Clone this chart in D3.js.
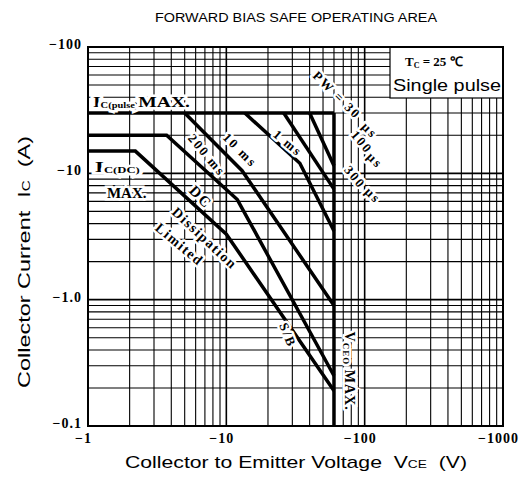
<!DOCTYPE html>
<html><head><meta charset="utf-8">
<script src="https://cdn.jsdelivr.net/npm/d3@7"></script>
<style>body{margin:0;background:#fff}svg{display:block}</style>
</head><body><svg id="c" width="526" height="478"></svg>
<script>
// ---- data ----
const xTicks = [1, 10, 100, 1000];
const xTickLabels = ["−1", "−10", "−100", "−1000"];
const yTicks = [0.1, 1, 10, 100];
const yTickLabels = ["−0.1", "−1.0", "−10", "−100"];
// curves: [VCE (V), IC (A)]
const icPulseMax = [[1, 30], [60, 30]];
const vceoMax = [[60, 30], [60, 0.1]];
const pw100us = [[40, 30], [60, 11.5]];
const pw300us = [[26, 30], [60, 7.5]];
const pw1ms = [[13.6, 30], [34, 12], [60, 3.5]];
const pw10ms = [[5, 30], [13, 10.5], [60, 0.9]];
const pw200ms = [[1, 20], [3.7, 20], [12, 6.2], [60, 0.25]];
const dcCurve = [[1, 15], [2.2, 15], [10, 3.3], [60, 0.19]];
const curves = [icPulseMax, vceoMax, pw100us, pw300us, pw1ms, pw10ms, pw200ms, dcCurve];
// annotation texts and anchors [VCE, IC, angle]
const curveLabelTexts = ["1 ms", "10 ms", "200 ms", "DC", "Dissipation", "Limited", "S/B", "PW = 30", "µs", "100", "µs", "300", "µs"];
const curveLabelAnchors = [[27.9, 17.4, 40], [12.6, 15.3, 45], [7.25, 14.0, 50], [6.56, 6.5, 45], [7.0, 3.07, 43], [4.6, 2.75, 40], [27.9, 0.525, 68], [63.2, 41.7, 45], [109, 22, 45], [95.7, 17.7, 50], [119, 12.7, 45], [85.3, 9.35, 50], [115, 6.73, 45]];

// ---- layout ----
const L = 88, R = 503, T = 47, B = 426;
const svg = d3.select("#c");
const x = d3.scaleLog().domain([1, 1000]).range([L, R]);
const y = d3.scaleLog().domain([0.1, 100]).range([B, T]);
const isDecade = v => Math.abs(Math.log10(v) - Math.round(Math.log10(v))) < 1e-6;

svg.append("rect").attr("width", 526).attr("height", 478).attr("fill", "#fff");

// title
svg.append("text").attr("x", 155).attr("y", 22)
  .attr("font-family", "Liberation Sans, Arial, sans-serif").attr("font-size", 12)
  .attr("textLength", 282).attr("lengthAdjust", "spacingAndGlyphs")
  .text("FORWARD BIAS SAFE OPERATING AREA");

// grid
const g = svg.append("g");
g.selectAll("line.vx").data(x.ticks()).join("line")
  .attr("x1", d => x(d)).attr("x2", d => x(d)).attr("y1", T).attr("y2", B)
  .attr("stroke", "#000").attr("stroke-width", d => isDecade(d) ? 1.6 : 1.1);
g.selectAll("line.hy").data(y.ticks()).join("line")
  .attr("y1", d => y(d)).attr("y2", d => y(d)).attr("x1", L).attr("x2", R)
  .attr("stroke", "#000").attr("stroke-width", d => isDecade(d) ? 1.6 : 1.1);

// legend box
svg.append("rect").attr("x", 390).attr("y", T).attr("width", R - 390).attr("height", 51)
  .attr("fill", "#fff").attr("stroke", "#000").attr("stroke-width", 1.2);
const tc = svg.append("text").attr("x", 405).attr("y", 66)
  .attr("font-family", "Liberation Serif, Times New Roman, serif").attr("font-weight", "bold").attr("font-size", 13);
tc.append("tspan").text("T");
tc.append("tspan").attr("font-size", 8).attr("dy", 2).text("C");
tc.append("tspan").attr("dy", -2).text(" = 25  ℃");
svg.append("text").attr("x", 393).attr("y", 91)
  .attr("font-family", "Liberation Sans, Arial, sans-serif").attr("font-size", 17)
  .attr("textLength", 108).attr("lengthAdjust", "spacingAndGlyphs").text("Single pulse");

// curves
const line = d3.line().x(d => x(d[0])).y(d => y(d[1]));
svg.append("g").selectAll("path").data(curves).join("path")
  .attr("d", line).attr("fill", "none").attr("stroke", "#000")
  .attr("stroke-width", 3.5).attr("stroke-linejoin", "miter");

// frame
svg.append("rect").attr("x", L).attr("y", T).attr("width", R - L).attr("height", B - T)
  .attr("fill", "none").attr("stroke", "#000").attr("stroke-width", 2);

// curve labels
const serif = "Liberation Serif, Times New Roman, serif";
svg.append("g").selectAll("text").data(curveLabelTexts).join("text")
  .attr("transform", (d, i) => `translate(${x(curveLabelAnchors[i][0])},${y(curveLabelAnchors[i][1])}) rotate(${curveLabelAnchors[i][2]})`)
  .attr("text-anchor", "middle").attr("dy", "0.35em")
  .attr("font-family", serif).attr("font-weight", "bold")
  .attr("font-size", d => d === "DC" ? 15 : (d === "Dissipation" || d === "Limited") ? 14 : 13)
  .attr("letter-spacing", d => (d === "Dissipation" || d === "Limited") ? 1.5 : 2)
  .attr("stroke", "#fff").attr("stroke-width", 5).attr("paint-order", "stroke").attr("stroke-linejoin", "round")
  .text(d => d);

// VCEO MAX. label
const vc = svg.append("text")
  .attr("transform", `translate(${x(78)},${y(0.272)}) rotate(90)`)
  .attr("text-anchor", "middle").attr("dy", "0.35em")
  .attr("font-family", serif).attr("font-weight", "bold").attr("font-size", 14).attr("letter-spacing", 1)
  .attr("stroke", "#fff").attr("stroke-width", 5).attr("paint-order", "stroke");
vc.append("tspan").text("V");
vc.append("tspan").attr("font-size", 9).attr("dy", 2).text("CEO");
vc.append("tspan").attr("dy", -2).text(" MAX.");

// Ic labels
function icLabel(v, i, sub, tail, len) {
  const t = svg.append("text").attr("x", x(v)).attr("y", y(i))
    .attr("font-family", serif).attr("font-weight", "bold").attr("font-size", 15)
    .attr("stroke", "#fff").attr("stroke-width", 5).attr("paint-order", "stroke")
    .attr("textLength", len).attr("lengthAdjust", "spacingAndGlyphs");
  t.append("tspan").text("I");
  t.append("tspan").attr("font-size", 8).attr("dy", 1).text(sub);
  if (tail) t.append("tspan").attr("dy", -1).text(tail);
}
icLabel(1.087, 33.5, "C(pulse)", "MAX.", 97);
icLabel(1.12, 10.2, "C(DC)", null, 45);
svg.append("text").attr("x", x(1.37)).attr("y", y(6.37))
  .attr("font-family", serif).attr("font-weight", "bold").attr("font-size", 15)
  .attr("stroke", "#fff").attr("stroke-width", 5).attr("paint-order", "stroke")
  .text("MAX.");

// axes
const xa = svg.append("g").attr("transform", `translate(0,${B})`)
  .call(d3.axisBottom(x).tickValues(xTicks).tickFormat((d, i) => xTickLabels[i]).tickSize(0).tickPadding(7));
xa.select(".domain").remove();
xa.selectAll("text").attr("font-family", serif).attr("font-weight", "bold").attr("font-size", 14)
  .attr("letter-spacing", 1).attr("dx", -5).attr("fill", "#000");
const ya = svg.append("g").attr("transform", `translate(${L},0)`)
  .call(d3.axisLeft(y).tickValues(yTicks).tickFormat((d, i) => yTickLabels[i]).tickSize(0).tickPadding(6));
ya.select(".domain").remove();
ya.selectAll("text").attr("font-family", serif).attr("font-weight", "bold").attr("font-size", 14)
  .attr("letter-spacing", 1).attr("fill", "#000").attr("dy", "0.1em");

// axis titles
const xt = svg.append("text").attr("x", 125).attr("y", 468)
  .attr("font-family", "Liberation Sans, Arial, sans-serif").attr("font-size", 17)
  .attr("textLength", 342).attr("lengthAdjust", "spacingAndGlyphs").style("white-space", "pre");
xt.append("tspan").text("Collector to Emitter Voltage  V");
xt.append("tspan").attr("font-size", 11).text("CE");
xt.append("tspan").text("  (V)");
const yt = svg.append("text").attr("transform", "translate(30,388) rotate(-90)")
  .attr("font-family", "Liberation Sans, Arial, sans-serif").attr("font-size", 17)
  .attr("textLength", 252).attr("lengthAdjust", "spacingAndGlyphs").style("white-space", "pre");
yt.append("tspan").text("Collector Current  I");
yt.append("tspan").attr("font-size", 11).text("C");
yt.append("tspan").text("  (A)");
</script></body></html>
